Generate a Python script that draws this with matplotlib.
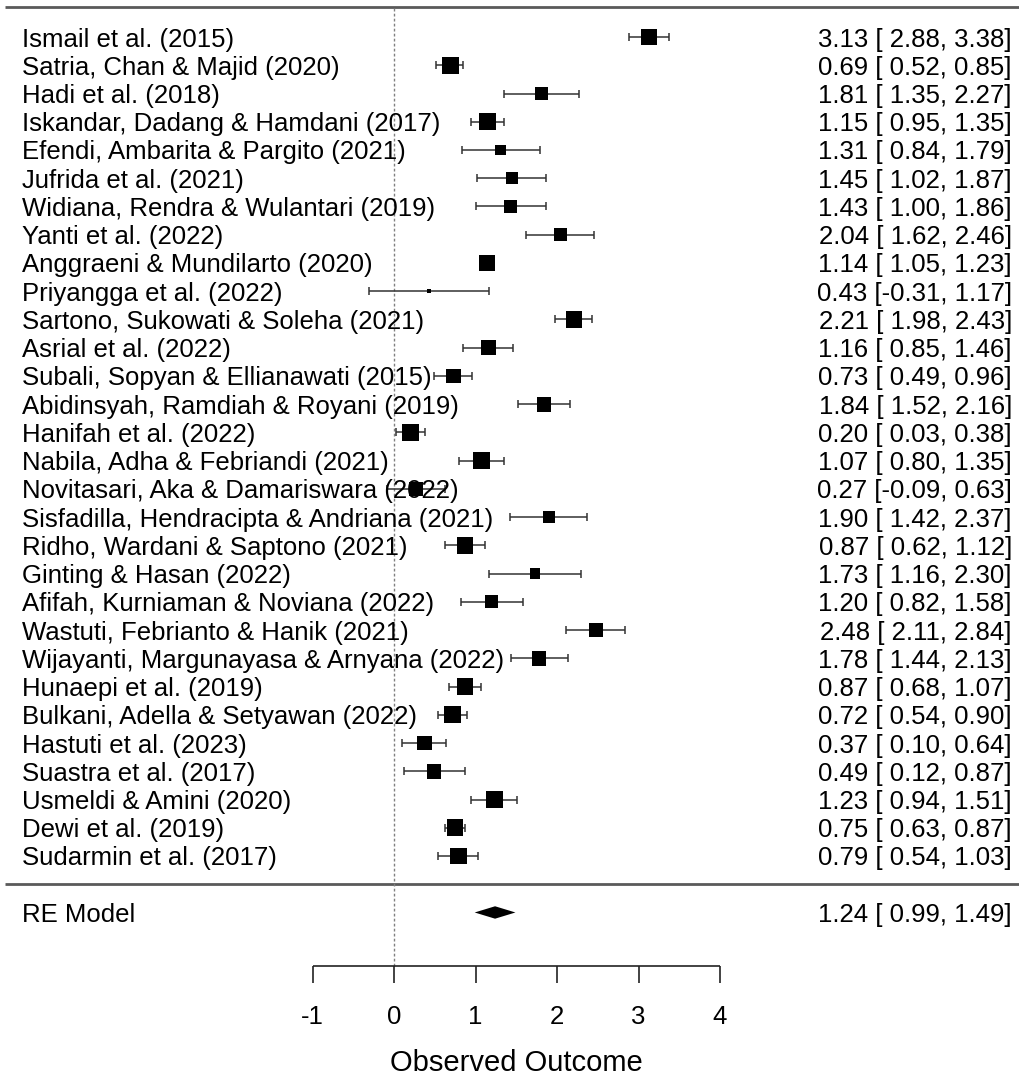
import matplotlib
matplotlib.use('Agg')
import matplotlib.pyplot as plt
import numpy as np

studies = [
    "Ismail et al. (2015)",
    "Satria, Chan & Majid (2020)",
    "Hadi et al. (2018)",
    "Iskandar, Dadang & Hamdani (2017)",
    "Efendi, Ambarita & Pargito (2021)",
    "Jufrida et al. (2021)",
    "Widiana, Rendra & Wulantari (2019)",
    "Yanti et al. (2022)",
    "Anggraeni & Mundilarto (2020)",
    "Priyangga et al. (2022)",
    "Sartono, Sukowati & Soleha (2021)",
    "Asrial et al. (2022)",
    "Subali, Sopyan & Ellianawati (2015)",
    "Abidinsyah, Ramdiah & Royani (2019)",
    "Hanifah et al. (2022)",
    "Nabila, Adha & Febriandi (2021)",
    "Novitasari, Aka & Damariswara (2022)",
    "Sisfadilla, Hendracipta & Andriana (2021)",
    "Ridho, Wardani & Saptono (2021)",
    "Ginting & Hasan (2022)",
    "Afifah, Kurniaman & Noviana (2022)",
    "Wastuti, Febrianto & Hanik (2021)",
    "Wijayanti, Margunayasa & Arnyana (2022)",
    "Hunaepi et al. (2019)",
    "Bulkani, Adella & Setyawan (2022)",
    "Hastuti et al. (2023)",
    "Suastra et al. (2017)",
    "Usmeldi & Amini (2020)",
    "Dewi et al. (2019)",
    "Sudarmin et al. (2017)",
]
estimates = [3.13, 0.69, 1.81, 1.15, 1.31, 1.45, 1.43, 2.04, 1.14, 0.43,
             2.21, 1.16, 0.73, 1.84, 0.20, 1.07, 0.27, 1.90, 0.87, 1.73,
             1.20, 2.48, 1.78, 0.87, 0.72, 0.37, 0.49, 1.23, 0.75, 0.79]
ci_lower = [2.88, 0.52, 1.35, 0.95, 0.84, 1.02, 1.00, 1.62, 1.05, -0.31,
            1.98, 0.85, 0.49, 1.52, 0.03, 0.80, -0.09, 1.42, 0.62, 1.16,
            0.82, 2.11, 1.44, 0.68, 0.54, 0.10, 0.12, 0.94, 0.63, 0.54]
ci_upper = [3.38, 0.85, 2.27, 1.35, 1.79, 1.87, 1.86, 2.46, 1.23, 1.17,
            2.43, 1.46, 0.96, 2.16, 0.38, 1.35, 0.63, 2.37, 1.12, 2.30,
            1.58, 2.84, 2.13, 1.07, 0.90, 0.64, 0.87, 1.51, 0.87, 1.03]
# relative study weights (largest = 1)
weight_rel = [1.00, 1.00, 0.74, 1.00, 0.64, 0.74, 0.76, 0.76, 1.00, 0.24,
              1.00, 0.86, 0.88, 0.88, 1.00, 1.00, 0.88, 0.74, 1.00, 0.64,
              0.76, 0.88, 0.88, 1.00, 1.00, 0.88, 0.88, 1.00, 1.00, 1.00]

re_label = "RE Model"
re_est, re_lb, re_ub = 1.24, 0.99, 1.49
xticks = [-1, 0, 1, 2, 3, 4]
xlabel = "Observed Outcome"

FONT = "Liberation Sans"
FS = 18.5

fig = plt.figure(figsize=(10.2, 10.77), dpi=100)
ax = fig.add_axes([0, 0, 1, 1])
# pixel <-> data mapping
PX0, PXU = 394.0, 81.5
PY1, RY = 856.0, 28.24
ax.set_xlim((0 - PX0) / PXU, (1020 - PX0) / PXU)
ax.set_ylim(1 + (PY1 - 1077) / RY, 1 + PY1 / RY)
ax.axis('off')

k = len(studies)
rows = np.arange(k, 0, -1)

x_left = (22 - PX0) / PXU
x_right = (1012 - PX0) / PXU
x_line0 = (5 - PX0) / PXU
x_line1 = (1020 - PX0) / PXU

# horizontal lines (top and separator)
ax.plot([x_line0, x_line1], [k + 1.05, k + 1.05], color='#5a5a5a', lw=2.0, solid_capstyle='butt')
ax.plot([x_line0, x_line1], [0, 0], color='#5a5a5a', lw=2.0, solid_capstyle='butt')

# axis
y_axis = -2.9
tick_len = 0.6
# reference line
ax.plot([0, 0], [y_axis, k + 1.05], color='#808080', lw=1.0, linestyle=(0, (2, 1.6)))

# error bars
ax.errorbar(estimates, rows,
            xerr=[np.array(estimates) - np.array(ci_lower), np.array(ci_upper) - np.array(estimates)],
            fmt='none', ecolor='#333333', elinewidth=1.1, capsize=2.8, capthick=1.1)

# squares
max_side_pt = 16.7 * 72 / 100
sizes = (np.array(weight_rel) * max_side_pt) ** 2
ax.scatter(estimates, rows, s=sizes, marker='s', color='black', linewidths=0, zorder=3)

# labels and annotations
def fmt_ci(est, lb, ub, pad):
    lbs = f"{lb:.2f}"
    if pad and lb >= 0:
        lbs = " " + lbs
    return f"{est:.2f} [{lbs}, {ub:.2f}]"

pad = any(v < 0 for v in ci_lower)
for r, name, e, lo, hi in zip(rows, studies, estimates, ci_lower, ci_upper):
    ax.text(x_left, r, name, ha='left', va='center_baseline', fontsize=FS, family=FONT)
    ax.text(x_right, r, fmt_ci(e, lo, hi, pad), ha='right', va='center_baseline', fontsize=FS, family=FONT)

# RE model
y_re = -1
h = 0.22
ax.fill([re_lb, re_est, re_ub, re_est], [y_re, y_re + h, y_re, y_re - h], color='black', lw=0)
ax.text(x_left, y_re, re_label, ha='left', va='center_baseline', fontsize=FS, family=FONT)
ax.text(x_right, y_re, fmt_ci(re_est, re_lb, re_ub, pad), ha='right', va='center_baseline', fontsize=FS, family=FONT)

# x axis
ax.plot([xticks[0], xticks[-1]], [y_axis, y_axis], color='#222222', lw=1.2, solid_capstyle='butt')
for t in xticks:
    ax.plot([t, t], [y_axis, y_axis - tick_len], color='#222222', lw=1.2, solid_capstyle='butt')
    ax.text(t, -4.63, f"{t}", ha='center', va='center_baseline', fontsize=FS, family=FONT)
ax.text((xticks[0] + xticks[-1]) / 2, -6.22, xlabel, ha='center', va='center_baseline', fontsize=21, family=FONT)

fig.savefig("out.png", dpi=100)
